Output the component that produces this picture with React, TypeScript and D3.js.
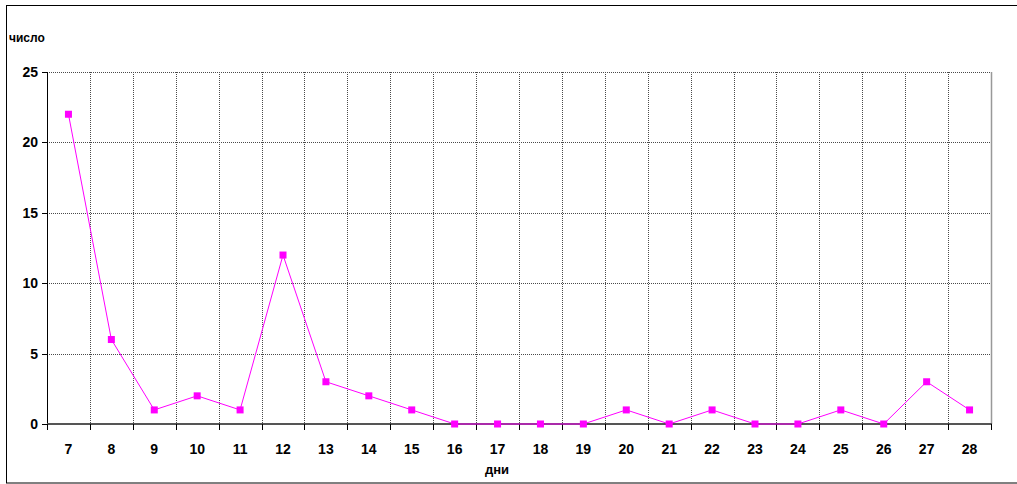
import { useEffect, useRef } from 'react'
import * as d3 from 'd3'

const days = ['7', '8', '9', '10', '11', '12', '13', '14', '15', '16', '17', '18', '19', '20', '21', '22', '23', '24', '25', '26', '27', '28']
const counts = [22, 6, 1, 2, 1, 12, 3, 2, 1, 0, 0, 0, 0, 1, 0, 1, 0, 0, 1, 0, 3, 1]
const yTicks = [0, 5, 10, 15, 20, 25]

export default function App() {
  const ref = useRef<SVGSVGElement | null>(null)

  useEffect(() => {
    const svg = d3.select(ref.current)
    svg.selectAll('*').remove()
    const width = 1017
    const height = 484
    const left = 47
    const right = 991
    const top = 72
    const bottom = 424
    const font = 'Liberation Sans, Arial, sans-serif'

    svg.attr('width', width).attr('height', height)

    // outer frame
    svg.append('rect')
      .attr('x', 6.5).attr('y', 5.5)
      .attr('width', 1030).attr('height', 477.5)
      .attr('fill', '#fff').attr('stroke', '#000').attr('stroke-width', 1)

    const x = d3.scaleBand().domain(days).range([left, right])
    const y = d3.scaleLinear().domain([0, 25]).range([bottom, top])

    const g = svg.append('g')
    const gridColor = '#4a4a4a'

    // horizontal gridlines
    g.selectAll('line.hg')
      .data(yTicks.filter((t) => t > 0))
      .enter()
      .append('line')
      .attr('x1', left).attr('x2', right)
      .attr('y1', (d) => Math.round(y(d)) + 0.5)
      .attr('y2', (d) => Math.round(y(d)) + 0.5)
      .attr('stroke', gridColor).attr('stroke-width', 1)
      .attr('stroke-dasharray', '1 1')

    // vertical gridlines at band boundaries
    const bounds = days.map((d) => x(d)!).concat([right])
    g.selectAll('line.vg')
      .data(bounds.slice(1, -1))
      .enter()
      .append('line')
      .attr('x1', (d) => Math.round(d) + 0.5)
      .attr('x2', (d) => Math.round(d) + 0.5)
      .attr('y1', top).attr('y2', bottom)
      .attr('stroke', gridColor).attr('stroke-width', 1)
      .attr('stroke-dasharray', '1 1')

    // right plot edge
    g.append('line')
      .attr('x1', right + 0.5).attr('x2', right + 0.5)
      .attr('y1', top).attr('y2', bottom)
      .attr('stroke', '#999').attr('stroke-width', 1.5)

    // y axis
    g.append('line')
      .attr('x1', left + 0.5).attr('x2', left + 0.5)
      .attr('y1', top).attr('y2', bottom)
      .attr('stroke', '#000').attr('stroke-width', 1)
    g.selectAll('line.yt')
      .data(yTicks)
      .enter()
      .append('line')
      .attr('x1', left - 5).attr('x2', left)
      .attr('y1', (d) => Math.round(y(d)) + 0.5)
      .attr('y2', (d) => Math.round(y(d)) + 0.5)
      .attr('stroke', '#000')
    g.selectAll('text.yl')
      .data(yTicks)
      .enter()
      .append('text')
      .attr('x', 38)
      .attr('y', (d) => y(d))
      .attr('dy', '0.36em')
      .attr('text-anchor', 'end')
      .attr('font-family', font)
      .attr('font-weight', 'bold')
      .attr('font-size', 14)
      .text((d) => d)

    // x axis
    g.append('line')
      .attr('x1', left).attr('x2', right + 1)
      .attr('y1', bottom).attr('y2', bottom)
      .attr('stroke', '#555').attr('stroke-width', 2)
    g.selectAll('line.xt')
      .data(bounds)
      .enter()
      .append('line')
      .attr('x1', (d) => Math.round(d) + 0.5)
      .attr('x2', (d) => Math.round(d) + 0.5)
      .attr('y1', bottom).attr('y2', bottom + 6)
      .attr('stroke', '#000')
    g.selectAll('text.xl')
      .data(days)
      .enter()
      .append('text')
      .attr('x', (d) => x(d)! + x.bandwidth() / 2)
      .attr('y', 454)
      .attr('text-anchor', 'middle')
      .attr('font-family', font)
      .attr('font-weight', 'bold')
      .attr('font-size', 14)
      .text((d) => d)

    // axis titles
    svg.append('text')
      .attr('x', 9).attr('y', 42)
      .attr('font-family', font)
      .attr('font-weight', 'bold')
      .attr('font-size', 12)
      .text('число')
    svg.append('text')
      .attr('x', 497).attr('y', 474)
      .attr('text-anchor', 'middle')
      .attr('font-family', font)
      .attr('font-weight', 'bold')
      .attr('font-size', 13)
      .text('дни')

    // series
    const line = d3.line<number>()
      .x((_, i) => x(days[i])! + x.bandwidth() / 2)
      .y((d) => y(d))
    g.append('path')
      .datum(counts)
      .attr('fill', 'none')
      .attr('stroke', '#ff00ff')
      .attr('stroke-width', 1)
      .attr('d', line as any)

    g.selectAll('rect.pt')
      .data(counts)
      .enter()
      .append('rect')
      .attr('x', (_, i) => x(days[i])! + x.bandwidth() / 2 - 3.5)
      .attr('y', (d) => y(d) - 3.5)
      .attr('width', 7).attr('height', 7)
      .attr('fill', '#ff00ff')
  }, [])

  return <svg ref={ref} style={{ position: 'absolute', left: 0, top: 0 }} />
}
